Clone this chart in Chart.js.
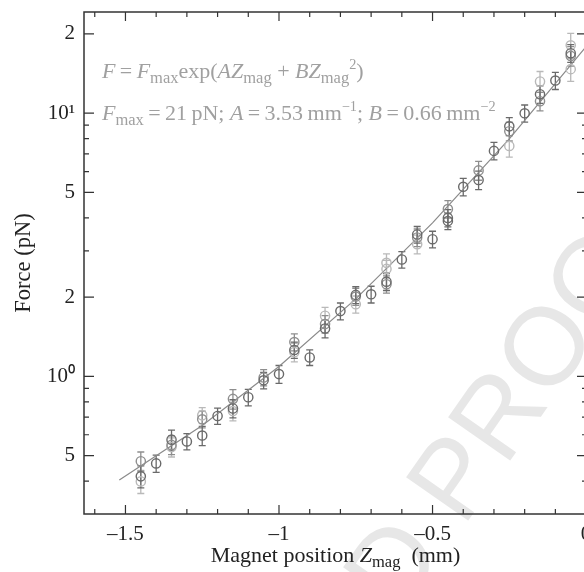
<!DOCTYPE html>
<html>
<head>
<meta charset="utf-8">
<script src="https://cdn.jsdelivr.net/npm/chart.js@4.4.1/dist/chart.umd.min.js"></script>
<style>
html, body { margin: 0; padding: 0; overflow: hidden; background: #fff; width: 584px; height: 572px; }
</style>
</head>
<body>
<canvas id="forceChart" width="600" height="572"></canvas>
<script>
// measured forces (pN) vs magnet position (mm), three shades of markers
let darkZ = [-1.45, -1.4, -1.35, -1.3, -1.25, -1.2, -1.15, -1.1, -1.05, -1.0, -0.95, -0.9, -0.85, -0.8, -0.75, -0.7, -0.65, -0.6, -0.55, -0.5, -0.45, -0.45, -0.4, -0.35, -0.3, -0.25, -0.2, -0.15, -0.1, -0.05];
let darkF = [0.417, 0.467, 0.575, 0.566, 0.596, 0.707, 0.755, 0.833, 0.966, 1.02, 1.26, 1.18, 1.52, 1.77, 2.04, 2.05, 2.29, 2.78, 3.46, 3.32, 4.0, 3.89, 5.25, 5.57, 7.19, 8.91, 9.99, 11.8, 13.3, 16.9];
let darkErr = [0.04, 0.035, 0.05, 0.04, 0.05, 0.05, 0.06, 0.06, 0.07, 0.08, 0.09, 0.08, 0.12, 0.13, 0.15, 0.15, 0.17, 0.2, 0.25, 0.24, 0.3, 0.28, 0.4, 0.45, 0.55, 0.7, 0.75, 0.9, 1.0, 1.3];

let midZ = [-1.45, -1.35, -1.25, -1.15, -1.05, -0.95, -0.85, -0.75, -0.65, -0.55, -0.45, -0.35, -0.25, -0.15, -0.05];
let midF = [0.476, 0.549, 0.687, 0.821, 0.99, 1.35, 1.58, 2.01, 2.24, 3.37, 4.32, 6.06, 8.54, 11.1, 16.5];
let midErr = [0.04, 0.045, 0.05, 0.07, 0.07, 0.1, 0.12, 0.15, 0.17, 0.26, 0.33, 0.5, 0.7, 0.9, 1.4];

let lightZ = [-1.45, -1.35, -1.25, -1.15, -0.95, -0.85, -0.75, -0.65, -0.65, -0.55, -0.25, -0.15, -0.05, -0.05];
let lightF = [0.399, 0.539, 0.711, 0.738, 1.236, 1.70, 1.88, 2.70, 2.56, 3.18, 7.51, 13.2, 18.1, 14.7];
let lightErr = [0.04, 0.045, 0.05, 0.06, 0.1, 0.13, 0.14, 0.22, 0.2, 0.26, 0.7, 1.2, 2.0, 1.5];

// fitted curve
let fitZ = [-1.52, -1.25, -1.0, -0.75, -0.5, -0.25, 0];
let fitF = [0.404, 0.651, 1.09, 1.97, 3.83, 7.98, 17.9];

let xTicks = [-1.6, -1.5, -1.4, -1.3, -1.2, -1.1, -1.0, -0.9, -0.8, -0.7, -0.6, -0.5, -0.4, -0.3, -0.2, -0.1, 0];
let xLabels = {'-1.5': '–1.5', '-1': '–1', '-0.5': '–0.5', '0': '0'};
let yTicks = [0.4, 0.5, 0.6, 0.7, 0.8, 0.9, 1, 2, 3, 4, 5, 6, 7, 8, 9, 10, 20];
let yLabels = {'0.5': '5', '1': '10⁰', '2': '2', '5': '5', '10': '10¹', '20': '2'};

const SERIF = "'Liberation Serif', 'Times New Roman', serif";
const TH = '\u2009';

let toPoints = function (xs, ys) {
    return xs.map(function (x, i) { return {x: x, y: ys[i]}; });
};

let segSize = function (s, size) {
    if (s[1].indexOf('sub') >= 0) return size * 0.75;
    if (s[1].indexOf('sup') >= 0) return size * 0.65;
    return size;
};

let drawRich = function (ctx, x, y, segs, size) {
    segs.forEach(function (s) {
        let sz = segSize(s, size), dy = 0;
        if (s[1].indexOf('sub') >= 0) dy = size * 0.22;
        if (s[1].indexOf('sup') >= 0) dy = -size * 0.4;
        ctx.font = (s[1].indexOf('i') === 0 ? 'italic ' : '') + sz + 'px ' + SERIF;
        ctx.fillText(s[0], x, y + dy);
        x += ctx.measureText(s[0]).width;
    });
    return x;
};

let richWidth = function (ctx, segs, size) {
    let w = 0;
    segs.forEach(function (s) {
        ctx.font = (s[1].indexOf('i') === 0 ? 'italic ' : '') + segSize(s, size) + 'px ' + SERIF;
        w += ctx.measureText(s[0]).width;
    });
    return w;
};

// faint proof stamp behind the plot
let watermark = {
    id: 'watermark',
    beforeDraw: function (chart) {
        let ctx = chart.ctx;
        ctx.save();
        ctx.translate(463, 528);
        ctx.rotate(-55 * Math.PI / 180);
        ctx.fillStyle = '#e7e7e7';
        ctx.font = '110px "Liberation Sans", Arial, sans-serif';
        ctx.textBaseline = 'alphabetic';
        ctx.textAlign = 'right';
        ctx.fillText('UNCORRECTED ', 0, 0);
        ctx.textAlign = 'left';
        ctx.fillText('PROOF', 0, 0);
        ctx.restore();
    }
};

let errorBars = {
    id: 'errorBars',
    beforeDatasetsDraw: function (chart) {
        let ctx = chart.ctx, xs = chart.scales.x, ys = chart.scales.y;
        ctx.save();
        ctx.beginPath();
        ctx.rect(chart.chartArea.left, chart.chartArea.top, chart.chartArea.right - chart.chartArea.left, chart.chartArea.bottom - chart.chartArea.top);
        ctx.clip();
        chart.data.datasets.forEach(function (ds) {
            if (!ds.errors) return;
            ctx.strokeStyle = ds.borderColor;
            ctx.lineWidth = 1.3;
            ds.data.forEach(function (p, i) {
                let px = xs.getPixelForValue(p.x);
                let top = ys.getPixelForValue(p.y + ds.errors[i]);
                let bot = ys.getPixelForValue(p.y - ds.errors[i]);
                ctx.beginPath();
                ctx.moveTo(px, top); ctx.lineTo(px, bot);
                ctx.moveTo(px - 3.5, top); ctx.lineTo(px + 3.5, top);
                ctx.moveTo(px - 3.5, bot); ctx.lineTo(px + 3.5, bot);
                ctx.stroke();
            });
        });
        ctx.restore();
    }
};

let frameAndText = {
    id: 'frameAndText',
    afterDraw: function (chart) {
        let ctx = chart.ctx, a = chart.chartArea, xs = chart.scales.x, ys = chart.scales.y;
        ctx.save();
        ctx.strokeStyle = '#333';
        ctx.lineWidth = 1.5;
        ctx.strokeRect(a.left, a.top, a.right - a.left, a.bottom - a.top);
        ctx.lineWidth = 1.2;
        ctx.beginPath();
        xs.ticks.forEach(function (t) {
            let px = xs.getPixelForValue(t.value);
            let len = t.label ? 9 : 5;
            ctx.moveTo(px, a.bottom); ctx.lineTo(px, a.bottom - len);
            ctx.moveTo(px, a.top); ctx.lineTo(px, a.top + len);
        });
        ys.ticks.forEach(function (t) {
            let py = ys.getPixelForValue(t.value);
            let len = t.label ? 10 : 5;
            ctx.moveTo(a.left, py); ctx.lineTo(a.left + len, py);
            ctx.moveTo(a.right, py); ctx.lineTo(a.right - len, py);
        });
        ctx.stroke();

        // axis titles
        ctx.fillStyle = '#222';
        ctx.textBaseline = 'alphabetic';
        ctx.save();
        ctx.translate(30, 263);
        ctx.rotate(-Math.PI / 2);
        ctx.textAlign = 'center';
        ctx.font = '22.5px ' + SERIF;
        ctx.fillText('Force (pN)', 0, 0);
        ctx.restore();

        let xTitle = [['Magnet position ', ''], ['Z', 'i'], ['mag', 'sub'], ['  (mm)', '']];
        let w = richWidth(ctx, xTitle, 22);
        ctx.textAlign = 'left';
        drawRich(ctx, (a.left + a.right) / 2 - w / 2, 562, xTitle, 22);

        // fit equation
        ctx.fillStyle = '#a0a0a0';
        drawRich(ctx, 102, 78, [['F', 'i'], [TH + '=' + TH, ''], ['F', 'i'], ['max', 'sub'], ['exp(', ''], ['AZ', 'i'], ['mag', 'sub'], [' + ', ''], ['BZ', 'i'], ['mag', 'sub'], ['2', 'sup'], [')', '']], 22);
        drawRich(ctx, 102, 120, [['F', 'i'], ['max', 'sub'], [TH + '=' + TH + '21' + TH + 'pN; ', ''], ['A', 'i'], [TH + '=' + TH + '3.53' + TH + 'mm', ''], ['−1', 'sup'], ['; ', ''], ['B', 'i'], [TH + '=' + TH + '0.66' + TH + 'mm', ''], ['−2', 'sup']], 22);
        ctx.restore();
    }
};

let ctx = document.getElementById('forceChart').getContext('2d');
window.forceChart = new Chart(ctx, {
    type: 'scatter',
    data: {
        datasets: [
            {data: toPoints(fitZ, fitF), showLine: true, borderColor: '#8a8a8a', borderWidth: 1.2, pointRadius: 0, order: 10},
            {data: toPoints(lightZ, lightF), errors: lightErr, borderColor: '#b9b9b9', backgroundColor: 'rgba(0,0,0,0)', pointRadius: 4.6, borderWidth: 1.4, order: 3},
            {data: toPoints(midZ, midF), errors: midErr, borderColor: '#8e8e8e', backgroundColor: 'rgba(0,0,0,0)', pointRadius: 4.6, borderWidth: 1.4, order: 2},
            {data: toPoints(darkZ, darkF), errors: darkErr, borderColor: '#6a6a6a', backgroundColor: 'rgba(0,0,0,0)', pointRadius: 4.6, borderWidth: 1.4, order: 1}
        ]
    },
    options: {
        responsive: false,
        animation: false,
        events: [],
        layout: {padding: {top: 12, right: 13, left: 0, bottom: 0}},
        plugins: {legend: {display: false}, tooltip: {enabled: false}},
        scales: {
            x: {
                type: 'linear', min: -1.635, max: 0.003,
                grid: {display: false, drawTicks: false},
                border: {display: false},
                afterBuildTicks: function (s) { s.ticks = xTicks.map(function (v) { return {value: v}; }); },
                afterFit: function (s) { s.height = 58; s.paddingLeft = 0; s.paddingRight = 0; },
                ticks: {
                    autoSkip: false, maxRotation: 0, padding: 8, color: '#222',
                    font: {family: SERIF, size: 21},
                    callback: function (v) { let k = String(Math.round(v * 10) / 10); return xLabels[k] || ''; }
                }
            },
            y: {
                type: 'logarithmic', min: 0.3245, max: 24.23,
                grid: {display: false, drawTicks: false},
                border: {display: false},
                afterBuildTicks: function (s) { s.ticks = yTicks.map(function (v) { return {value: v}; }); },
                afterFit: function (s) { s.width = 84; s.paddingTop = 0; s.paddingBottom = 0; },
                ticks: {
                    autoSkip: false, padding: 9, color: '#222',
                    font: {family: SERIF, size: 21},
                    callback: function (v) { return yLabels[String(v)] || ''; }
                }
            }
        }
    },
    plugins: [watermark, errorBars, frameAndText]
});
</script>
</body>
</html>
